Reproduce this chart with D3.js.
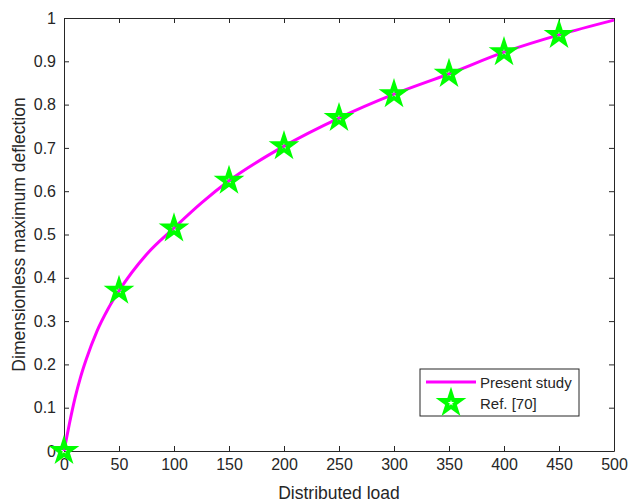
<!DOCTYPE html>
<html lang="en">
<head>
<meta charset="UTF-8">
<title>Dimensionless maximum deflection</title>
<script src="https://d3js.org/d3.v7.min.js"></script>
<style>
    body { margin: 0; background: #fff; }
    svg { display: block; }
    .axis text { font-family: "Liberation Sans", Arial, sans-serif; font-size: 16px; fill: #262626; }
    .axis path, .axis line { stroke: #262626; }
    .label { font-family: "Liberation Sans", Arial, sans-serif; font-size: 17.5px; fill: #262626; }
    .legtext { font-family: "Liberation Sans", Arial, sans-serif; font-size: 15px; fill: #262626; }
</style>
</head>
<body>
<script>
    // curve of the present study
    const curveLoad = [0, 5, 10, 15, 20, 30, 40, 50, 75, 100, 125, 150, 200, 250, 300, 350, 400, 450, 500];
    const curveDefl = [0, 0.064, 0.122, 0.170, 0.210, 0.277, 0.328, 0.370, 0.454, 0.515, 0.573, 0.624, 0.704, 0.769, 0.824, 0.871, 0.921, 0.961, 0.995];
    // reference points
    const refLoad = [0, 50, 100, 150, 200, 250, 300, 350, 400, 450];
    const refDefl = [0, 0.370, 0.514, 0.624, 0.704, 0.769, 0.824, 0.871, 0.921, 0.961];
    const xTicks = [0, 50, 100, 150, 200, 250, 300, 350, 400, 450, 500];
    const yTicks = [0, 0.1, 0.2, 0.3, 0.4, 0.5, 0.6, 0.7, 0.8, 0.9, 1];

    const width = 630, height = 503;
    const margins = {top: 18, right: 16, bottom: 52, left: 64};

    const svg = d3.select("body").append("svg")
        .attr("width", width).attr("height", height);

    const xScale = d3.scaleLinear().domain([0, 500]).range([margins.left, width - margins.right]);
    const yScale = d3.scaleLinear().domain([0, 1]).range([height - margins.bottom, margins.top]);

    //axes, MATLAB style: ticks inside, box all round
    svg.append("g").attr("class", "axis")
        .attr("transform", `translate(0,${yScale(0)})`)
        .call(d3.axisBottom(xScale).tickValues(xTicks).tickFormat(d3.format("d")).tickSizeInner(-5).tickSizeOuter(0).tickPadding(8));
    svg.append("g").attr("class", "axis")
        .attr("transform", `translate(0,${yScale(1)})`)
        .call(d3.axisTop(xScale).tickValues(xTicks).tickFormat("").tickSizeInner(-5).tickSizeOuter(0));
    svg.append("g").attr("class", "axis")
        .attr("transform", `translate(${xScale(0)},0)`)
        .call(d3.axisLeft(yScale).tickValues(yTicks).tickFormat(d => d3.format("")(d)).tickSizeInner(-5).tickSizeOuter(0).tickPadding(8));
    svg.append("g").attr("class", "axis")
        .attr("transform", `translate(${xScale(500)},0)`)
        .call(d3.axisRight(yScale).tickValues(yTicks).tickFormat("").tickSizeInner(-5).tickSizeOuter(0));

    //line
    const curveData = curveLoad.map((q, i) => ({q: q, w: curveDefl[i]}));
    const lineGen = d3.line()
        .x(d => xScale(d.q))
        .y(d => yScale(d.w))
        .curve(d3.curveMonotoneX);
    svg.append("path")
        .datum(curveData)
        .attr("d", lineGen)
        .attr("fill", "none")
        .attr("stroke", "#ff00ff")
        .attr("stroke-width", 3);

    //stars
    const star = d3.symbol().type(d3.symbolStar).size(105);
    svg.append("g").selectAll("path")
        .data(refLoad.map((q, i) => ({q: q, w: refDefl[i]})))
        .enter().append("path")
        .attr("d", star)
        .attr("transform", d => `translate(${xScale(d.q)},${yScale(d.w)})`)
        .attr("fill", "none")
        .attr("stroke", "#00ff00")
        .attr("stroke-width", 4)
        .attr("stroke-linejoin", "miter");

    //axis labels
    svg.append("text").attr("class", "label")
        .attr("x", (xScale(0) + xScale(500)) / 2)
        .attr("y", 499)
        .attr("text-anchor", "middle")
        .text("Distributed load");
    svg.append("text").attr("class", "label")
        .attr("transform", `translate(25,${(yScale(0) + yScale(1)) / 2}) rotate(-90)`)
        .attr("text-anchor", "middle")
        .text("Dimensionless maximum deflection");

    //legend
    const legend = svg.append("g").attr("transform", "translate(420,369)");
    legend.append("rect")
        .attr("width", 159).attr("height", 47)
        .attr("fill", "#fff").attr("stroke", "#262626").attr("stroke-width", 1);
    legend.append("line")
        .attr("x1", 6).attr("x2", 56).attr("y1", 13).attr("y2", 13)
        .attr("stroke", "#ff00ff").attr("stroke-width", 3);
    legend.append("path")
        .attr("d", star)
        .attr("transform", "translate(31,34)")
        .attr("fill", "none").attr("stroke", "#00ff00").attr("stroke-width", 4);
    legend.append("text").attr("class", "legtext")
        .attr("x", 60).attr("y", 19)
        .text("Present study");
    legend.append("text").attr("class", "legtext")
        .attr("x", 60).attr("y", 40)
        .text("Ref. [70]");
</script>
</body>
</html>
